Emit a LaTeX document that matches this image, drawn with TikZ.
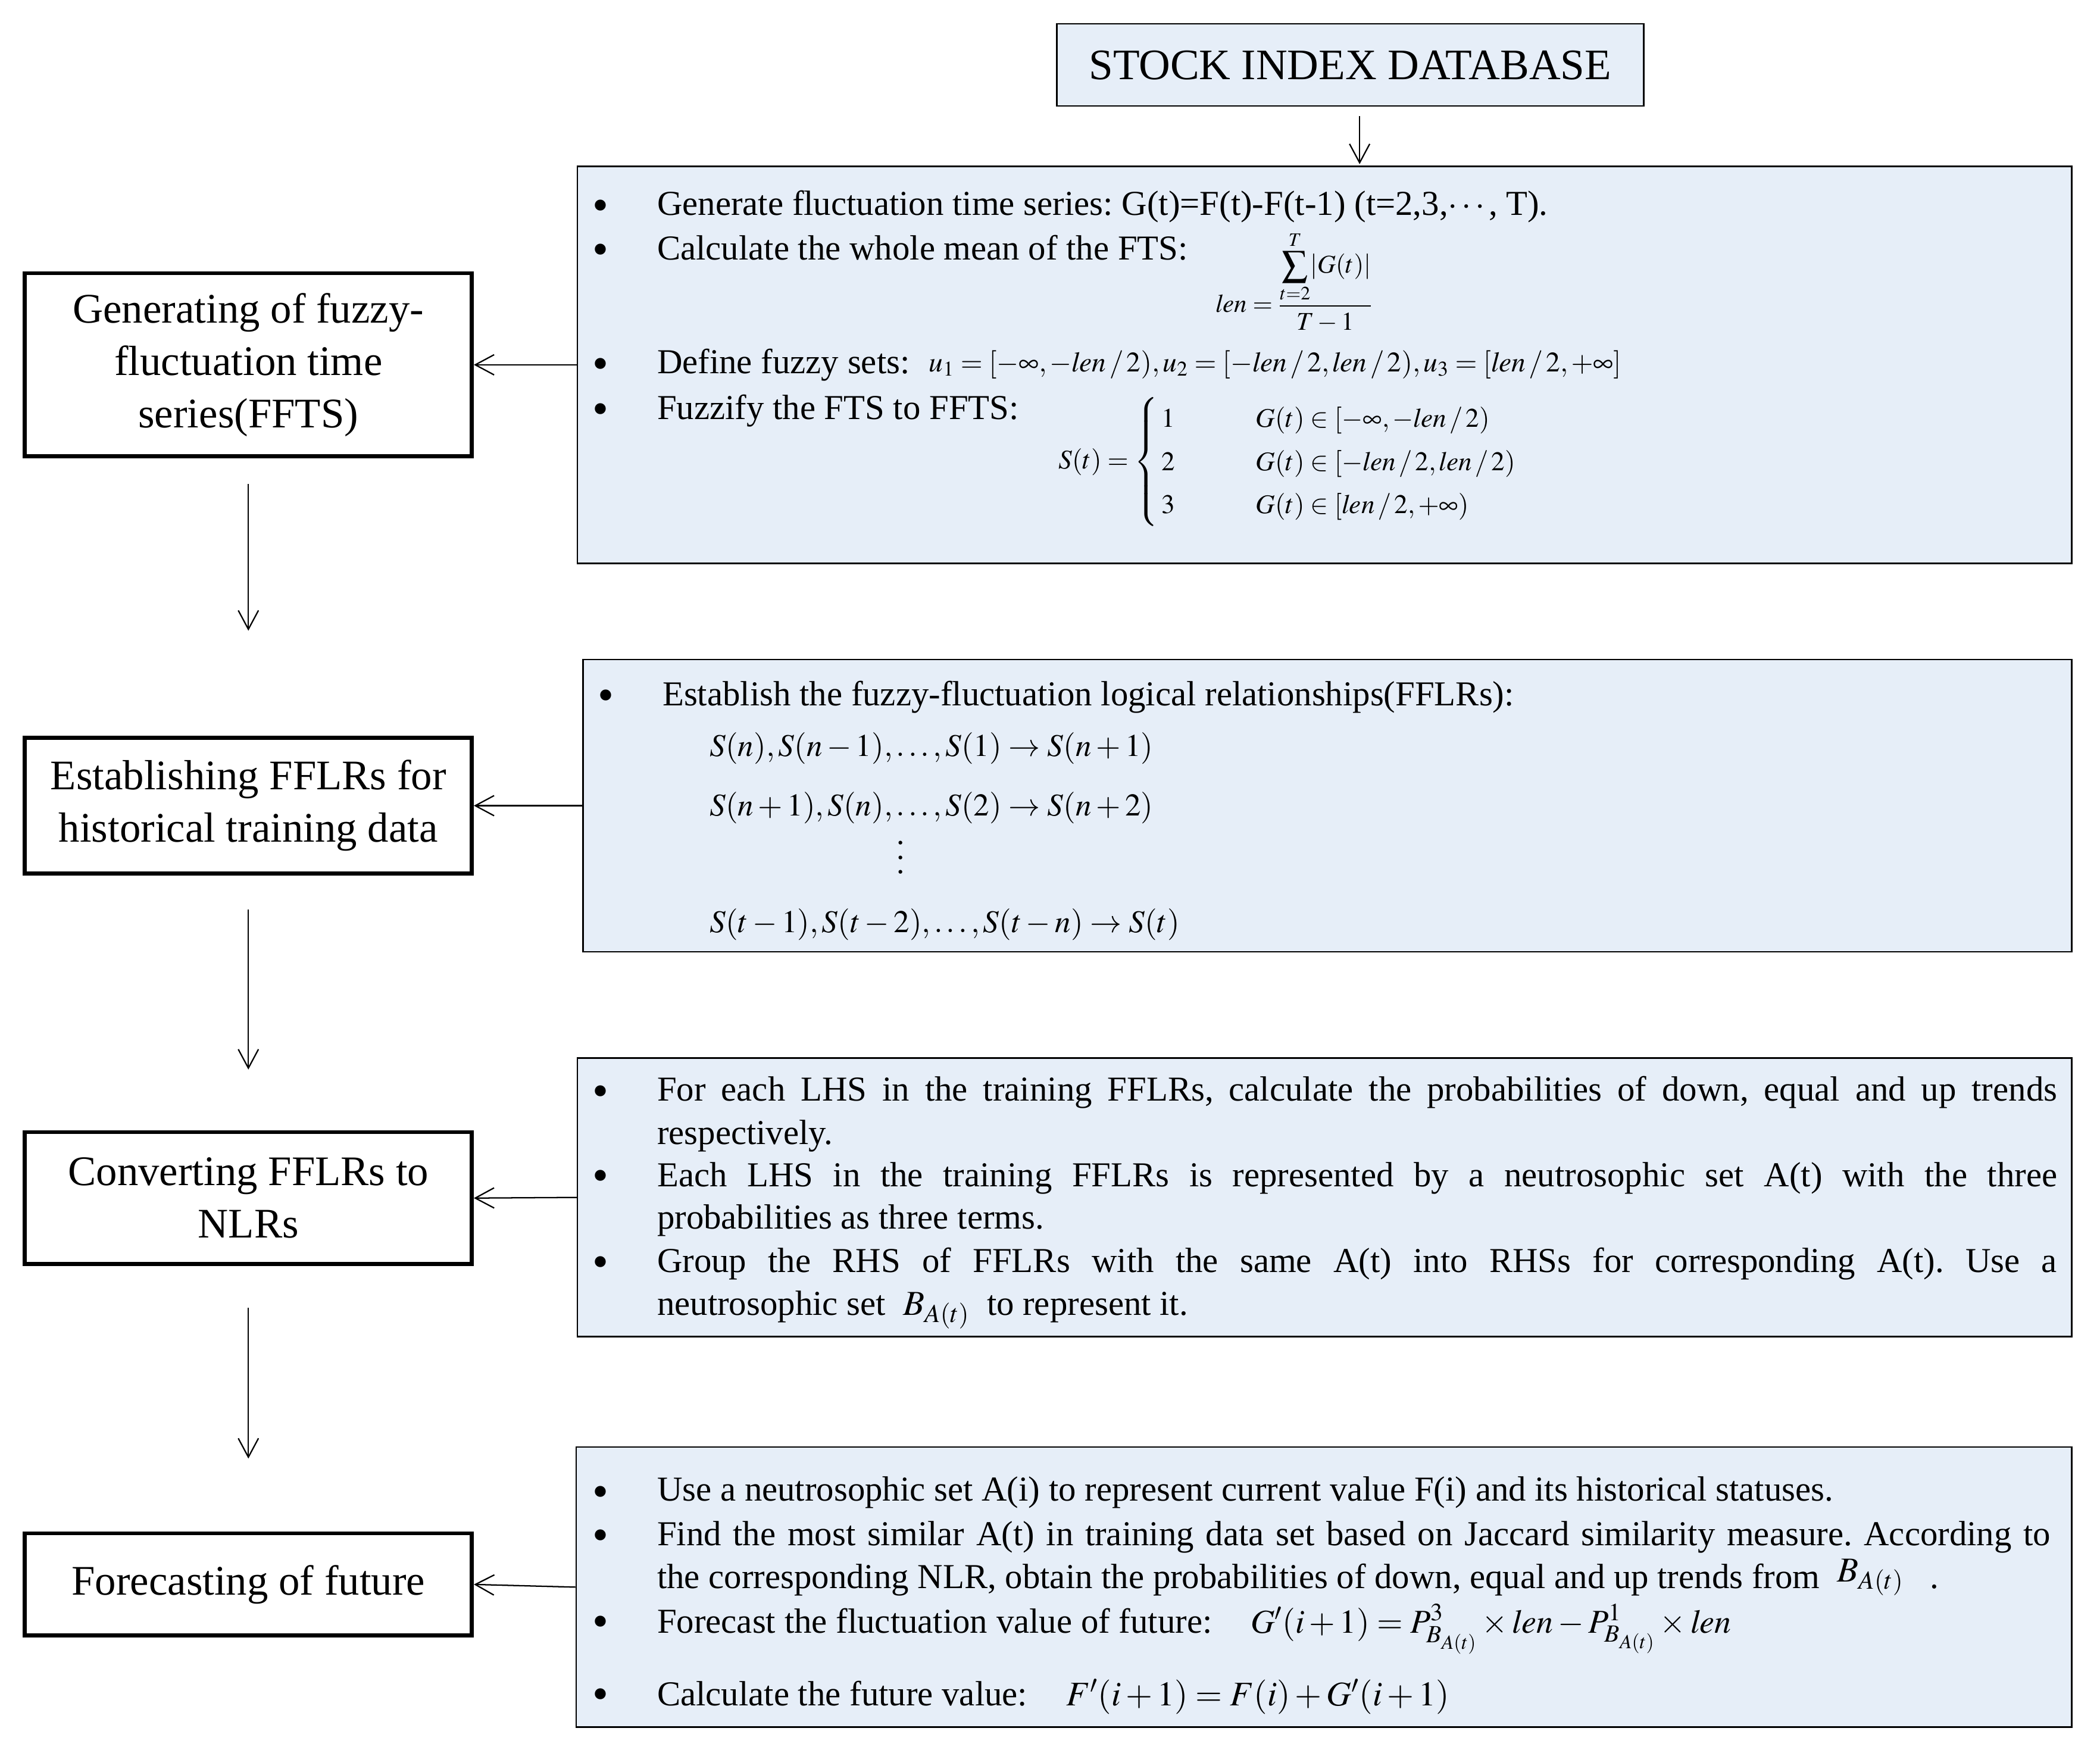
\documentclass[tikz,border=0pt]{standalone}
\usepackage{amsmath}
\usepackage{mathptmx}
\usepackage{fontspec}
\setmainfont{Liberation Serif}
\usepackage{tikz}
\usetikzlibrary{arrows.meta, positioning}
\definecolor{paleblue}{RGB}{230,238,248}
\frenchspacing

\tikzset{
  panel/.style={draw, fill=paleblue, line width=1.1pt, inner sep=0pt},
  stage/.style={draw, line width=3pt, fill=white, align=center, inner sep=0pt,
    minimum width=332pt, font=\fontsize{31.3}{39}\selectfont},
  arr/.style={-{Straight Barb[length=14pt,width=15pt]}, line width=1pt},
  txt/.style={anchor=base west, inner sep=0pt, font=\fontsize{26}{32}\selectfont},
  dot/.style={inner sep=0pt, font=\fontsize{34}{34}\selectfont},
  eq/.style={inner sep=0pt, font=\fontsize{23.5}{28}\selectfont},
}
\newcommand{\tallvdots}{\vbox{\baselineskip=11pt\lineskiplimit=0pt\hbox{.}\hbox{.}\hbox{.}}}

\begin{document}
\begin{tikzpicture}[x=1pt, y=-1pt]
    \useasboundingbox (0,0) rectangle (1560,1300);

    % Database
    \node[panel, minimum width=436pt, minimum height=61pt, font=\fontsize{32.3}{34}\selectfont] (db) at (1003,48.3) {STOCK INDEX DATABASE};

    % Right panels
    \node[panel, minimum width=1110pt, minimum height=295pt] (r1) at (984,271) {};
    \node[panel, minimum width=1106pt, minimum height=217pt] (r2) at (986,598.5) {};
    \node[panel, minimum width=1110pt, minimum height=207pt] (r3) at (984,889.5) {};
    \node[panel, minimum width=1111pt, minimum height=208pt] (r4) at (983.5,1179) {};

    % Left stages
    \node[stage, minimum height=136pt] (l1) at (184.5,271) {Generating of fuzzy-\\fluctuation time\\series(FFTS)};
    \node[stage, minimum height=101pt] (l2) at (184.5,598.5) {Establishing FFLRs for\\historical training data};
    \node[stage, minimum height=98pt] (l3) at (184.5,890) {Converting FFLRs to\\NLRs};
    \node[stage, minimum height=76pt] (l4) at (184.5,1177) {Forecasting of future};

    % Connectors
    \draw[arr, shorten <=7pt, shorten >=1pt] ([xshift=7pt]db.south) -- ([xshift=7pt]db.south |- r1.north);
    \draw[arr] (r1.west) -- (l1.east);
    \draw[arr] (r2.west) -- (l2.east);
    \draw[arr] (r3.west) -- (l3.east);
    \draw[arr] (r4.west) -- (l4.east);
    \draw[arr, shorten <=19pt, shorten >=78pt] (l1.south) -- (l2.north);
    \draw[arr, shorten <=25pt, shorten >=45pt] (l2.south) -- (l3.north);
    \draw[arr, shorten <=31pt, shorten >=54pt] (l3.south) -- (l4.north);

    % Bullets
    \foreach \y [count=\i] in {156,189,274,307.5}
        \node[dot] (da\i) at (446,\y) {\textbullet};
    \node[dot] (db1) at (450,520) {\textbullet};
    \foreach \y [count=\i] in {814,877,941}
        \node[dot] (dc\i) at (446,\y) {\textbullet};
    \foreach \y [count=\i] in {1111.5,1144,1208,1262}
        \node[dot] (dd\i) at (446,\y) {\textbullet};

    % Panel 1
    \node[txt] (ta1) at (488,160) {Generate fluctuation time series: G(t)=F(t)-F(t-1) (t=2,3,$\cdots$, T).};
    \node[txt] (ta2) at (488,193) {Calculate the whole mean of the FTS:};
    \node[eq, anchor=base west, font=\fontsize{19}{22}\selectfont] (lenf) at (903,232) {$\mathit{len}=\dfrac{\displaystyle\sum_{t=2}^{T}\lvert G(t)\rvert}{T-1}$};
    \node[txt] (ta3) at (488,277.6) {Define fuzzy sets:};
    \node[eq, anchor=base west, font=\fontsize{21}{24}\selectfont] (setf) at (690,276) {$u_1=[-\infty,-\mathit{len}\,/\,2),u_2=[-\mathit{len}\,/\,2,\mathit{len}\,/\,2),u_3=[\mathit{len}\,/\,2,+\infty]$};
    \node[txt] (ta4) at (488,311.4) {Fuzzify the FTS to FFTS:};
    \node[eq, anchor=west, font=\fontsize{20}{22}\selectfont] (casef) at (786,343) {$S(t)=\left\{\renewcommand{\arraystretch}{1.45}\begin{array}{@{\,}l@{\hspace{60pt}}l}
        1 & G(t)\in[-\infty,-\mathit{len}\,/\,2)\\
        2 & G(t)\in[-\mathit{len}\,/\,2,\mathit{len}\,/\,2)\\
        3 & G(t)\in[\mathit{len}\,/\,2,+\infty)
      \end{array}\right.$};

    % Panel 2
    \node[txt] (tb1) at (492,524) {Establish the fuzzy-fluctuation logical relationships(FFLRs):};
    \node[txt, font=\fontsize{23.5}{28}\selectfont] (fb1) at (527,562) {$S(n),S(n-1),\ldots,S(1)\rightarrow S(n+1)$};
    \node[txt, font=\fontsize{23.5}{28}\selectfont] (fb2) at (527,606) {$S(n+1),S(n),\ldots,S(2)\rightarrow S(n+2)$};
    \node[eq] (fbv) at (669,637) {\tallvdots};
    \node[txt, font=\fontsize{23.5}{28}\selectfont] (fb3) at (527,692.5) {$S(t-1),S(t-2),\ldots,S(t-n)\rightarrow S(t)$};

    % Panel 3
    \node[txt] (tc1) at (488,818) {\makebox[1040pt][s]{For each LHS in the training FFLRs, calculate the probabilities of down, equal and up trends}};
    \node[txt] (tc2) at (488,850) {respectively.};
    \node[txt] (tc3) at (488,881.6) {\makebox[1040pt][s]{Each LHS in the training FFLRs is represented by a neutrosophic set A(t) with the three}};
    \node[txt] (tc4) at (488,913) {probabilities as three terms.};
    \node[txt] (tc5) at (488,945) {\makebox[1040pt][s]{Group the RHS of FFLRs with the same A(t) into RHSs for corresponding A(t). Use a}};
    \node[txt] (tc6) at (488,977) {neutrosophic set \ $B_{A(t)}$ \ to represent it.};

    % Panel 4
    \node[txt] (td1) at (488,1115) {Use a neutrosophic set A(i) to represent current value F(i) and its historical statuses.};
    \node[txt] (td2) at (488,1148) {\makebox[1035pt][s]{Find the most similar A(t) in training data set based on Jaccard similarity measure. According to}};
    \node[txt] (td3) at (488,1180) {the corresponding NLR, obtain the probabilities of down, equal and up trends from \ \raisebox{5pt}{$B_{A(t)}$} \ \ .};
    \node[txt] (td4) at (488,1213) {Forecast the fluctuation value of future:};
    \node[txt, font=\fontsize{24.8}{28}\selectfont] (fd4) at (929,1213) {$G'(i+1)=P^{3}_{B_{A(t)}}\times \mathit{len}-P^{1}_{B_{A(t)}}\times \mathit{len}$};
    \node[txt] (td5) at (488,1267) {Calculate the future value:};
    \node[txt, font=\fontsize{25.6}{28}\selectfont] (fd5) at (792,1267) {$F'(i+1)=F(i)+G'(i+1)$};
\end{tikzpicture}
\end{document}
